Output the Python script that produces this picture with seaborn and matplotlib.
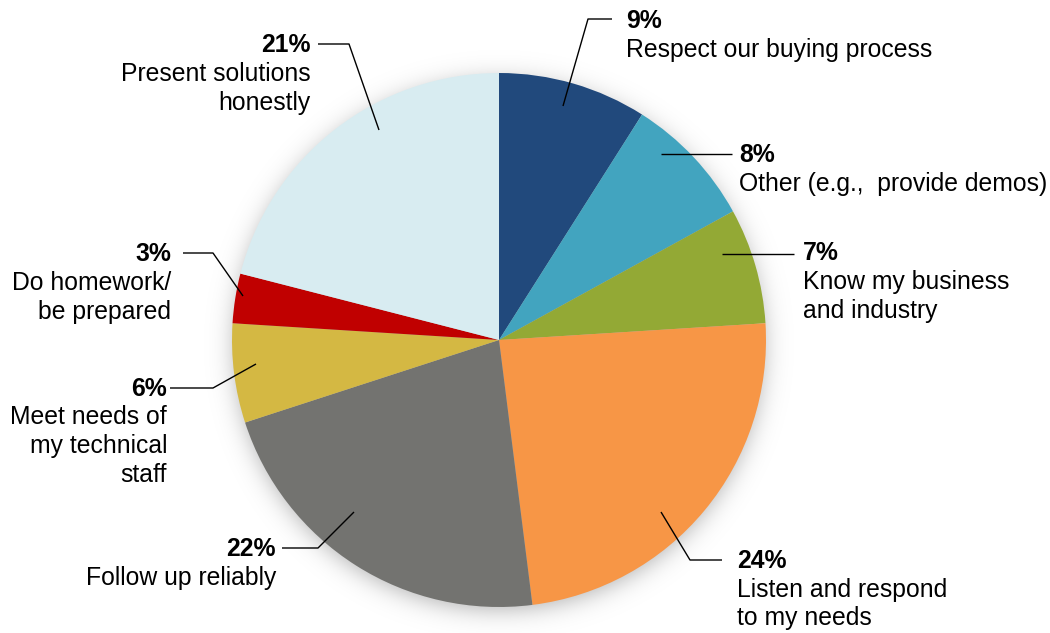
import numpy as np
import matplotlib
matplotlib.use("Agg")
import matplotlib.pyplot as plt
import seaborn as sns

# Survey answers, clockwise from twelve o'clock
categories = [
    "Respect our buying process",
    "Other (e.g.,  provide demos)",
    "Know my business\nand industry",
    "Listen and respond\nto my needs",
    "Follow up reliably",
    "Meet needs of\nmy technical\nstaff",
    "Do homework/\nbe prepared",
    "Present solutions\nhonestly",
]
shares = [9, 8, 7, 24, 22, 6, 3, 21]
colors = ["#21497C", "#42A4BF", "#93A935", "#F79646",
          "#737370", "#D4B843", "#C00000", "#D8ECF1"]

sns.set_theme(style="white")
plt.rcParams["font.family"] = ["Liberation Sans", "DejaVu Sans"]

W, H = 1050, 633
fig = plt.figure(figsize=(W / 100, H / 100), dpi=100)
ax = fig.add_axes([0, 0, 1, 1])

# Pie geometry in pixel units (y measured from the top of the canvas)
cx, cy, R = 499, 340, 267


def P(x, y):
    return x, H - y


# Soft drop shadow behind the pie
yy, xx = np.mgrid[0:H, 0:W] + 0.5
dist = np.hypot(xx - cx, yy - (cy + 5)) - (R - 2)
alpha = 0.30 / (1 + np.exp(dist / 7.0))
shadow = np.zeros((H, W, 4))
shadow[..., 3] = alpha
ax.imshow(shadow, extent=(0, W, 0, H), origin="upper", zorder=0,
          interpolation="bilinear")

ax.pie(shares, colors=colors, startangle=90, counterclock=False,
       radius=R, center=P(cx, cy),
       wedgeprops=dict(linewidth=0, edgecolor="none", zorder=1))

ax.set_xlim(0, W)
ax.set_ylim(0, H)
ax.set_aspect("equal")
ax.axis("off")

# Label layout: leader polyline (pixels), text anchor x, alignment, baseline of the percent
leaders = [
    [(563, 106), (588, 19), (612, 19)],
    [(661, 154), (732, 154)],
    [(722, 254), (794, 254)],
    [(661, 512), (690, 560), (722, 560)],
    [(354, 512), (318, 548), (282, 548)],
    [(256, 364), (213, 388), (170, 388)],
    [(243, 296), (213, 253), (183, 253)],
    [(379, 130), (349, 44), (318, 44)],
]
text_x = [626, 739, 803, 737, 276, 167, 171, 311]
text_ha = ["left", "left", "left", "left", "right", "right", "right", "right"]
baselines = [27.7, 162.3, 260, 567.7, 556, 395.7, 261, 52.5]

fs = 17.8
step = 28.8
for cat, val, pts, tx, ha, by in zip(categories, shares, leaders,
                                     text_x, text_ha, baselines):
    xs, ys = zip(*[P(x, y) for x, y in pts])
    ax.plot(xs, ys, color="black", lw=1.0, solid_capstyle="butt", zorder=3)
    ax.text(*P(tx, by), f"{val}%", ha=ha, va="baseline", fontsize=fs,
            fontweight="bold", color="black", zorder=4)
    for i, line in enumerate(cat.split("\n")):
        ax.text(*P(tx, by + step * (i + 1)), line, ha=ha, va="baseline",
                fontsize=fs, color="black", zorder=4)

fig.savefig("out.png", dpi=100, facecolor="white")
